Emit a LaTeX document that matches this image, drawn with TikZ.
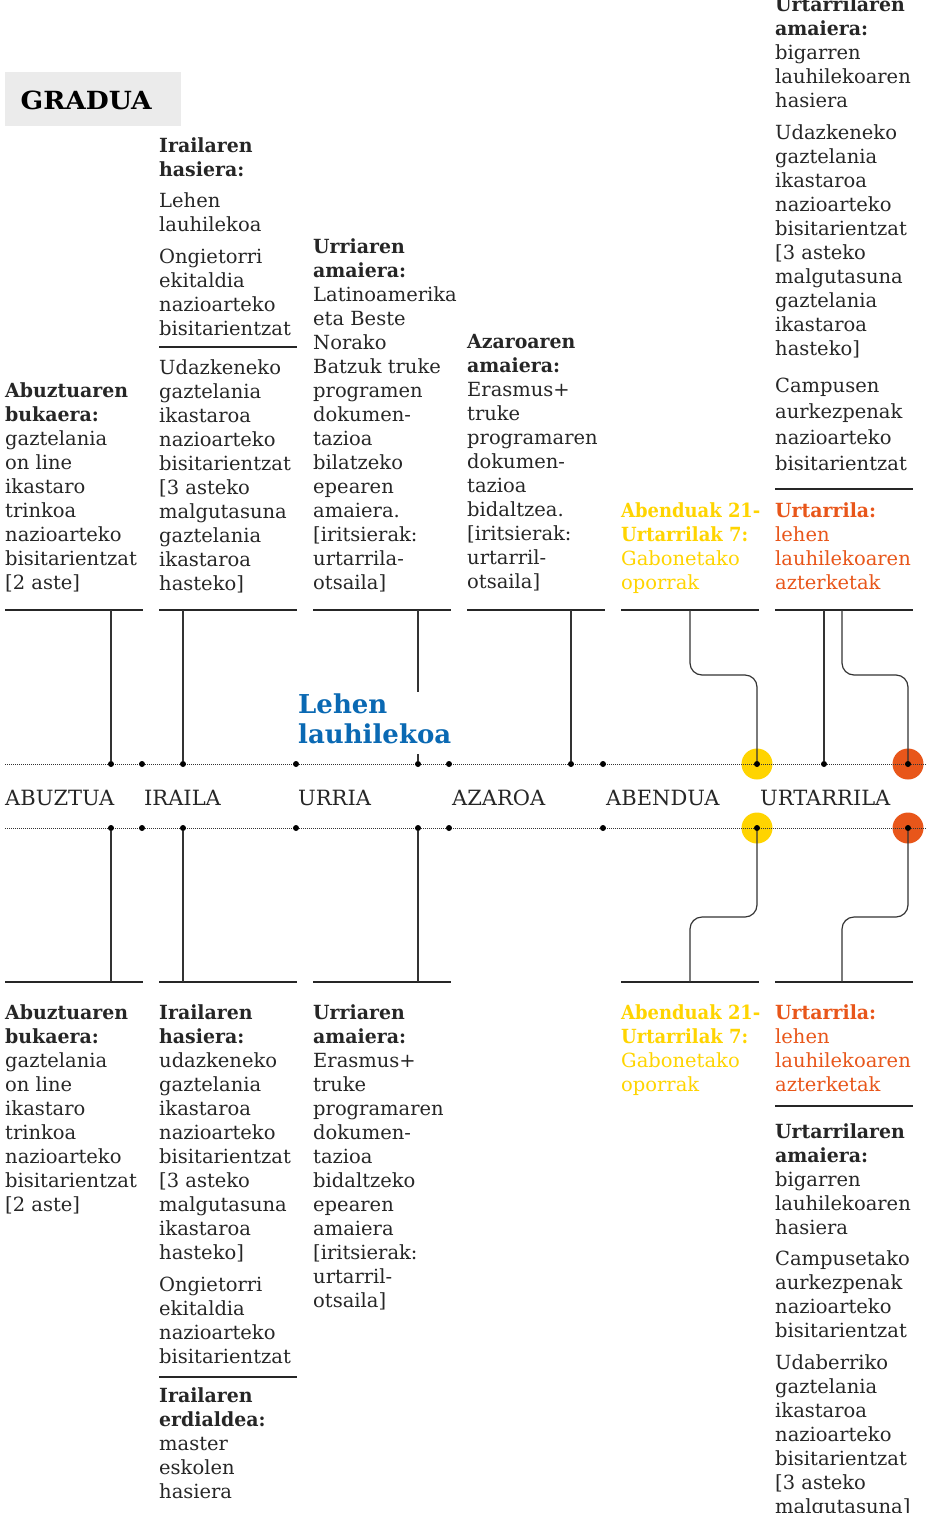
\documentclass[tikz,border=0pt]{standalone}
\usepackage{fontspec}
\setmainfont{DejaVu Serif}
\newfontfamily\lodia[FakeStretch=0.97]{DejaVu Serif}
\newfontfamily\estua[FakeStretch=0.92]{DejaVu Serif}
\newfontfamily\zabala[FakeStretch=1.06]{DejaVu Serif}
\definecolor{horia}{HTML}{FFD400}
\definecolor{laranja}{HTML}{E8561A}
\definecolor{urdina}{HTML}{0A69B3}
\definecolor{grisa}{HTML}{EBEBEB}
\definecolor{iluna}{HTML}{262626}
\newcommand{\buru}[1]{{\lodia\bfseries #1}}
\newcommand{\buruestua}[1]{{\estua\bfseries #1}}
\tikzset{testua/.style={anchor=north west, inner sep=0pt, align=left, text=iluna, font=\fontsize{19.5}{24}\selectfont, execute at begin node=\strut}, banaketa/.style={line width=1.4pt, black!85}, lotura/.style={line width=1.2pt, black!80, rounded corners=12pt}, ardatza/.style={densely dotted, line width=1pt, black!80}, puntua/.style={circle, fill=black, inner sep=0pt, minimum size=6pt}, borobila/.style={circle, inner sep=0pt, minimum size=31pt}, hilabetea/.style={anchor=base west, inner sep=0pt, text=iluna, font=\fontsize{21}{24}\selectfont}}

\begin{document}
\begin{tikzpicture}[x=1pt, y=-1pt]
    \useasboundingbox (0,0) rectangle (927,1513);
    \clip (0,0) rectangle (927,1513);
    \fill[grisa] (5,72) rectangle (181,126);
    \node[anchor=base west, inner sep=0pt, font=\fontsize{25}{30}\selectfont\zabala\bfseries] (gradua) at (20.5,109) {GRADUA};

    \node[testua] (abuz1) at (5,382.5) {\buru{Abuztuaren}\\\buru{bukaera:}\\gaztelania\\on line\\ikastaro\\trinkoa\\nazioarteko\\bisitarientzat\\{[}2 aste]};
    \node[testua] (irai1) at (159,137.5) {\buru{Irailaren}\\\buru{hasiera:}\\[7pt]Lehen\\lauhilekoa\\[8pt]Ongietorri\\ekitaldia\\nazioarteko\\bisitarientzat};
    \node[testua] (irai2) at (159,359.5) {Udazkeneko\\gaztelania\\ikastaroa\\nazioarteko\\bisitarientzat\\{[}3 asteko\\malgutasuna\\gaztelania\\ikastaroa\\hasteko]};
    \node[testua] (urri1) at (313,238.5) {\buru{Urriaren}\\\buru{amaiera:}\\Latinoamerika\\eta Beste\\Norako\\Batzuk truke\\programen\\dokumen-\\tazioa\\bilatzeko\\epearen\\amaiera.\\{[}iritsierak:\\urtarrila-\\otsaila]};
    \node[testua] (azar1) at (467,334.5) {\buru{Azaroaren}\\\buru{amaiera:}\\Erasmus+\\truke\\programaren\\dokumen-\\tazioa\\bidaltzea.\\{[}iritsierak:\\urtarril-\\otsaila]};
    \node[testua, text=horia] (aben1) at (621,502.5) {\buruestua{Abenduak 21-}\\\buruestua{Urtarrilak 7:}\\Gabonetako\\oporrak};
    \node[testua] (urta1) at (775,-3.5) {\buru{Urtarrilaren}\\\buru{amaiera:}\\bigarren\\lauhilekoaren\\hasiera\\[8pt]Udazkeneko\\gaztelania\\ikastaroa\\nazioarteko\\bisitarientzat\\{[}3 asteko\\malgutasuna\\gaztelania\\ikastaroa\\hasteko]\\[13pt]Campusen\\[2pt]aurkezpenak\\[2pt]nazioarteko\\[2pt]bisitarientzat};
    \node[testua, text=laranja] (urta2) at (775,502.5) {\buru{Urtarrila:}\\lehen\\lauhilekoaren\\azterketak};

    \node[testua] (abuz2) at (5,1004.5) {\buru{Abuztuaren}\\\buru{bukaera:}\\gaztelania\\on line\\ikastaro\\trinkoa\\nazioarteko\\bisitarientzat\\{[}2 aste]};
    \node[testua] (irai3) at (159,1004.5) {\buru{Irailaren}\\\buru{hasiera:}\\udazkeneko\\gaztelania\\ikastaroa\\nazioarteko\\bisitarientzat\\{[}3 asteko\\malgutasuna\\ikastaroa\\hasteko]\\[8pt]Ongietorri\\ekitaldia\\nazioarteko\\bisitarientzat};
    \node[testua] (irai4) at (159,1387.5) {\buru{Irailaren}\\\buru{erdialdea:}\\master\\eskolen\\hasiera};
    \node[testua] (urri2) at (313,1004.5) {\buru{Urriaren}\\\buru{amaiera:}\\Erasmus+\\truke\\programaren\\dokumen-\\tazioa\\bidaltzeko\\epearen\\amaiera\\{[}iritsierak:\\urtarril-\\otsaila]};
    \node[testua, text=horia] (aben2) at (621,1004.5) {\buruestua{Abenduak 21-}\\\buruestua{Urtarrilak 7:}\\Gabonetako\\oporrak};
    \node[testua, text=laranja] (urta3) at (775,1004.5) {\buru{Urtarrila:}\\lehen\\lauhilekoaren\\azterketak};
    \node[testua] (urta4) at (775,1123.5) {\buru{Urtarrilaren}\\\buru{amaiera:}\\bigarren\\lauhilekoaren\\hasiera\\[7pt]Campusetako\\aurkezpenak\\nazioarteko\\bisitarientzat\\[8pt]Udaberriko\\gaztelania\\ikastaroa\\nazioarteko\\bisitarientzat\\{[}3 asteko\\malgutasuna]};

    \foreach \x in {5,159,313,467,621,775} \draw[banaketa] (\x,610) -- ++(138,0);
    \foreach \x in {5,159,313,621,775} \draw[banaketa] (\x,982) -- ++(138,0);
    \draw[banaketa] (159,347) -- ++(138,0);
    \draw[banaketa] (775,489) -- ++(138,0);
    \draw[banaketa] (159,1377) -- ++(138,0);
    \draw[banaketa] (775,1106) -- ++(138,0);

    \node[borobila, fill=horia] (bh1) at (757,764) {};
    \node[borobila, fill=laranja] (bl1) at (908,764) {};
    \node[borobila, fill=horia] (bh2) at (757,828) {};
    \node[borobila, fill=laranja] (bl2) at (908,828) {};
    \draw[ardatza] (5,764) -- (927,764);
    \draw[ardatza] (5,828) -- (927,828);
    \foreach \x in {111,142,183,296,418,449,571,603,757,824,908} \node[puntua] (g\x) at (\x,764) {};
    \foreach \x in {111,142,183,296,418,449,603,757,908} \node[puntua] (h\x) at (\x,828) {};

    \node[hilabetea] (abuztua) at (5,805) {ABUZTUA};
    \node[hilabetea] (iraila) at (144,805) {IRAILA};
    \node[hilabetea] (urria) at (298,805) {URRIA};
    \node[hilabetea] (azaroa) at (452,805) {AZAROA};
    \node[hilabetea] (abendua) at (606,805) {ABENDUA};
    \node[hilabetea] (urtarrila) at (760,805) {URTARRILA};

    \coordinate (goia) at (0,610);
    \coordinate (behea) at (0,982);
    \coordinate (maila1) at (0,675);
    \coordinate (maila2) at (0,917);
    \coordinate (kurba1) at (690,610);
    \coordinate (kurba2) at (842,610);
    \coordinate (kurba3) at (690,982);
    \coordinate (kurba4) at (842,982);
    \foreach \x in {111,183,418,571,824} \draw[lotura] (g\x |- goia) -- (g\x);
    \draw[lotura] (kurba1) |- (maila1 -| g757) -- (g757);
    \draw[lotura] (kurba2) |- (maila1 -| g908) -- (g908);
    \foreach \x in {111,183,418} \draw[lotura] (h\x) -- (h\x |- behea);
    \draw[lotura] (h757) |- (maila2 -| kurba3) -- (kurba3);
    \draw[lotura] (h908) |- (maila2 -| kurba4) -- (kurba4);

    \node[anchor=north west, inner sep=2pt, fill=white, align=left, text=urdina, font=\fontsize{26}{29.5}\selectfont\bfseries, execute at begin node=\strut] (lehena) at (296,691.7) {Lehen\\lauhilekoa};
\end{tikzpicture}
\end{document}
